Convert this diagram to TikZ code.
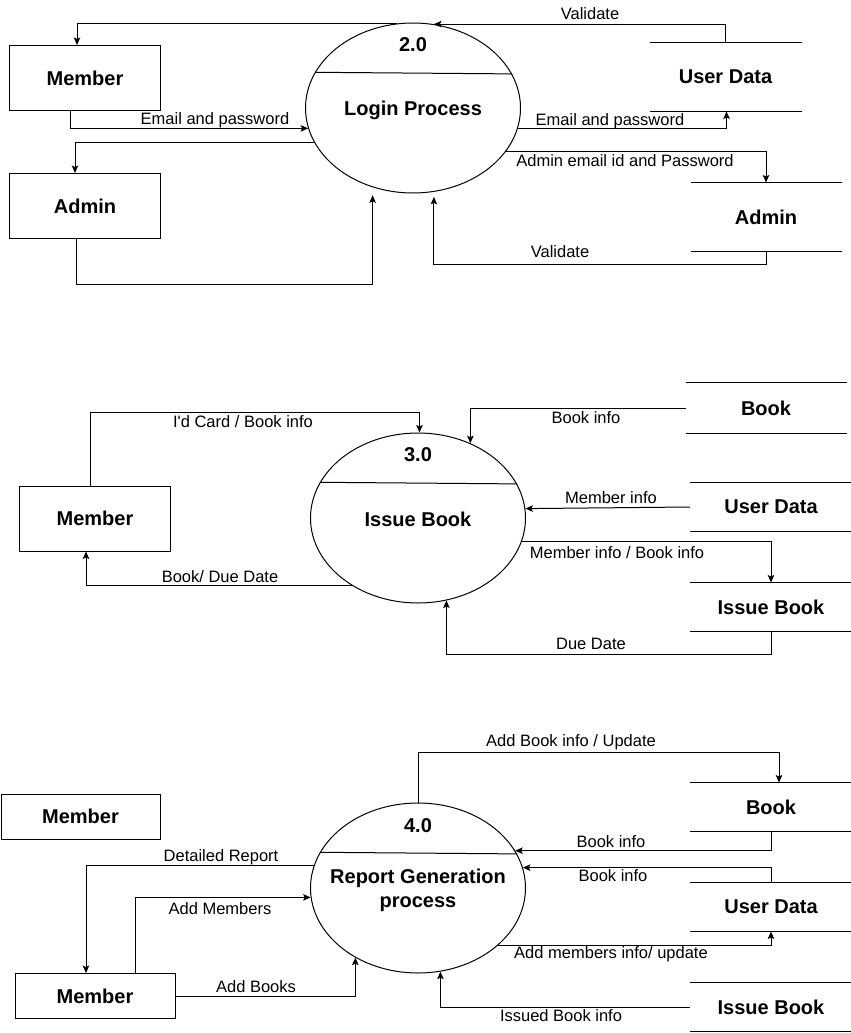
\documentclass[tikz,border=0pt]{standalone}
\usepackage{fontspec}
\setmainfont{Liberation Sans}
\usetikzlibrary{arrows.meta,shapes.geometric}

\begin{document}
\begin{tikzpicture}[x=1pt, y=-1pt, line width=1pt,
    flow/.style={-{Stealth[length=7.5pt,width=6.5pt,inset=1.5pt]}},
    entity/.style={draw, rectangle, minimum width=151, minimum height=65, inner sep=0, font=\fontsize{20}{24}\selectfont\bfseries},
    store/.style={rectangle, inner sep=0, minimum width=160, minimum height=48, font=\fontsize{20}{24}\selectfont\bfseries},
    proc/.style={draw, ellipse, minimum width=215, minimum height=170, inner sep=0},
    ptitle/.style={align=center, font=\fontsize{20}{24}\selectfont\bfseries},
    lbl/.style={font=\fontsize{16.5}{19}\selectfont, inner sep=0, text height=12pt, text depth=3.5pt}]
    \useasboundingbox (0,0) rectangle (851,1033);

    % Login process 2.0
    \node[entity] (mem1) at (85,78) {Member};
    \node[entity] (adm1) at (85,206) {Admin};
    \node[proc] (p2) at (413,108) {};
    \node[ptitle] (n2) at ([yshift=-22pt]p2.north) {2.0};
    \node[ptitle] (t2) at ([yshift=-2.5pt]p2.center) {Login Process};
    \draw (p2.160.4) -- (p2.19.6);
    \node[store, minimum width=151, minimum height=68] (ud1) at (725.5,77) {User Data};
    \node[store, minimum width=150, minimum height=68] (ad2) at (766,217) {Admin};

    \draw[flow] (ud1.north) |- (p2.76.5);
    \draw[flow] (p2.101) -| ([xshift=-8pt]mem1.north);
    \draw[flow] ([xshift=-15pt]mem1.south) |- (p2.191.8);
    \draw[flow] (p2.199.2) -| ([xshift=-10pt]adm1.north);
    \draw[flow, shorten >=8pt] ([xshift=-9pt]adm1.south) -- ++(0,45) -| (p2.243);
    \draw[flow] (p2.-11.6) -| ([xshift=1pt]ud1.south);
    \draw[flow] (p2.-25.4) -| (ad2.north);
    \draw[flow, shorten >=5pt] (ad2.south) -- ++(0,13) -| (p2.-76.5);

    \node[lbl] (l1) at (590,15) {Validate};
    \node[lbl] (l2) at (215,120) {Email and password};
    \node[lbl] (l3) at (610,121) {Email and password};
    \node[lbl] (l4) at (625,162) {Admin email id and Password};
    \node[lbl] (l5) at (560,253) {Validate};

    % Issue book 3.0
    \node[entity] (mem3) at (95,518.5) {Member};
    \node[proc] (p3) at (418,518) {};
    \node[ptitle] (n3) at ([yshift=-22pt]p3.north) {3.0};
    \node[ptitle] (t3) at ([yshift=-1pt]p3.center) {Issue Book};
    \draw (p3.160.4) -- (p3.19.6);
    \node[store, minimum height=50] (bk3) at (766,408) {Book};
    \node[store, minimum width=161] (ud3) at (771,507) {User Data};
    \node[store, minimum width=161] (ib3) at (771,607) {Issue Book};

    \draw[flow] ([xshift=-5pt]mem3.north) -- ++(0,-73) -| (p3.89);
    \draw[flow] (bk3.west) -| (p3.55);
    \draw[flow] (ud3.west) -- (p3.5.7);
    \draw[flow] (p3.-13.9) -| (ib3.north);
    \draw[flow] (ib3.south) -- ++(0,23) -| (p3.-71.4);
    \draw[flow] (p3.226.4) -| ([xshift=-9pt]mem3.south);

    \node[lbl] (l6) at (243,423) {I\textquotesingle d Card / Book info};
    \node[lbl] (l7) at (586,419) {Book info};
    \node[lbl] (l8) at (611,499) {Member info};
    \node[lbl] (l9) at (617,554) {Member info / Book info};
    \node[lbl] (l10) at (220,578) {Book/ Due Date};
    \node[lbl] (l11) at (591,645) {Due Date};

    % Report generation 4.0
    \node[entity, minimum width=159, minimum height=45] (mem4) at (80.5,816.5) {Member};
    \node[entity, minimum width=160, minimum height=45] (mem5) at (95,996) {Member};
    \node[proc] (p4) at (418,888) {};
    \node[ptitle] (n4) at ([yshift=-23pt]p4.north) {4.0};
    \node[ptitle] (t4) at ([yshift=-2.5pt]p4.center) {Report Generation\\process};
    \draw (p4.160.4) -- (p4.19.6);
    \node[store, minimum width=161] (bk4) at (771,807) {Book};
    \node[store, minimum width=161] (ud4) at (771,907) {User Data};
    \node[store, minimum width=161] (ib4) at (771,1007) {Issue Book};

    \draw[flow] (p4.north) -- ++(0,-50) -| ([xshift=8pt]bk4.north);
    \draw[flow] (bk4.south) |- (p4.21.1);
    \draw[flow] (ud4.north) |- (p4.11.6);
    \draw[flow] (p4.-36.2) -| (ud4.south);
    \draw[flow] (ib4.west) -| (p4.-75.9);
    \draw[flow] (p4.168.6) -| ([xshift=-9pt]mem5.north);
    \draw[flow] ([xshift=40pt]mem5.north) |- (p4.185.3);
    \draw[flow] (mem5.east) -| (p4.228);

    \node[lbl] (l12) at (571,742) {Add Book info / Update};
    \node[lbl] (l13) at (611,843) {Book info};
    \node[lbl] (l14) at (613,877) {Book info};
    \node[lbl] (l15) at (611,954) {Add members info/ update};
    \node[lbl] (l16) at (561,1017) {Issued Book info};
    \node[lbl] (l17) at (221,857) {Detailed Report};
    \node[lbl] (l18) at (220,910) {Add Members};
    \node[lbl] (l19) at (256,988) {Add Books};

    % data store lines
    \foreach \s in {ud1,ad2,bk3,ud3,ib3,bk4,ud4,ib4}
        \draw (\s.north west) -- (\s.north east) (\s.south west) -- (\s.south east);
\end{tikzpicture}
\end{document}
